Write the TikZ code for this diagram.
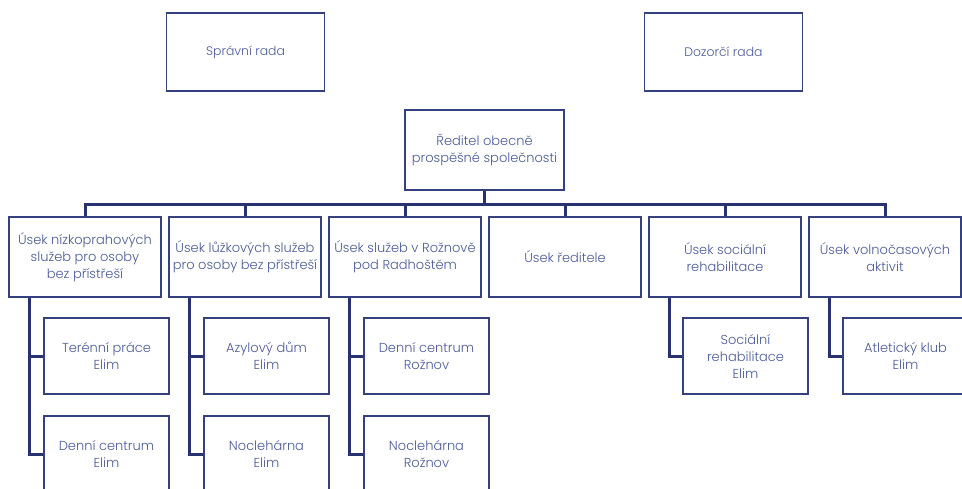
\documentclass[tikz,border=0pt]{standalone}
\usepackage{fontspec}
\setmainfont{Poppins}[UprightFont={* Light}]
\definecolor{boxcol}{HTML}{34407F}
\definecolor{linecol}{HTML}{27326F}
\definecolor{txtcol}{HTML}{4A5A9A}
\begin{document}
\begin{tikzpicture}[x=1pt,y=-1pt,
  box/.style={draw=boxcol, line width=1.2pt, text=txtcol, align=center, inner sep=0pt,
    font=\fontsize{13}{17}\selectfont},
  topbox/.style={box, minimum width=158pt, minimum height=78pt, font=\fontsize{12.4}{17}\selectfont},
  unitbox/.style={box, minimum width=152pt, minimum height=80pt},
  childbox/.style={box, minimum width=125pt, minimum height=76pt},
  conn/.style={draw=linecol, line width=3pt, line join=miter}]
\useasboundingbox (0,0) rectangle (962,489);
% top
\node[topbox] (sprava) at (245.5,52) {Správní rada};
\node[topbox] (dozor) at (723.5,52) {Dozorčí rada};
\node[box, minimum width=159pt, minimum height=80pt] (ret) at (484.5,150) {Ředitel obecně\\prospěšné společnosti};
% units
\node[unitbox] (u1) at (85,257) {Úsek nízkoprahových\\služeb pro osoby\\bez přístřeší};
\node[unitbox] (u2) at (245,257) {Úsek lůžkových služeb\\pro osoby bez přístřeší};
\node[unitbox] (u3) at (405,257) {Úsek služeb v Rožnově\\pod Radhoštěm};
\node[unitbox] (u4) at (565,257) {Úsek ředitele};
\node[unitbox] (u5) at (725,257) {Úsek sociální\\rehabilitace};
\node[unitbox] (u6) at (885,257) {Úsek volnočasových\\aktivit};
% children
\node[childbox] (c11) at (106.5,356) {Terénní práce\\Elim};
\node[childbox] (c12) at (106.5,454) {Denní centrum\\Elim};
\node[childbox] (c21) at (266.5,356) {Azylový dům\\Elim};
\node[childbox] (c22) at (266.5,454) {Noclehárna\\Elim};
\node[childbox] (c31) at (426.5,356) {Denní centrum\\Rožnov};
\node[childbox] (c32) at (426.5,454) {Noclehárna\\Rožnov};
\node[childbox] (c51) at (745.5,356) {Sociální\\rehabilitace\\Elim};
\node[childbox] (c61) at (905.5,356) {Atletický klub\\Elim};
% bus
\coordinate (bus) at (0,205);
\draw[conn] (ret.south) -- (ret.south |- bus);
\draw[conn] (u1.north) -- (u1.north |- bus) -- (u6.north |- bus) -- (u6.north);
\foreach \u in {u2,u3,u4,u5}{\draw[conn] (\u.north) -- (\u.north |- bus);}
% child connectors
\foreach \u/\a/\b in {u1/c11/c12,u2/c21/c22,u3/c31/c32}{
  \draw[conn] ([xshift=21pt]\u.south west) |- (\b.west);
  \draw[conn] (\a.west) -- ([xshift=21pt]\u.south west |- \a.west);
}
\draw[conn] ([xshift=21pt]u5.south west) |- (c51.west);
\draw[conn] ([xshift=21pt]u6.south west) |- (c61.west);
\end{tikzpicture}
\end{document}
